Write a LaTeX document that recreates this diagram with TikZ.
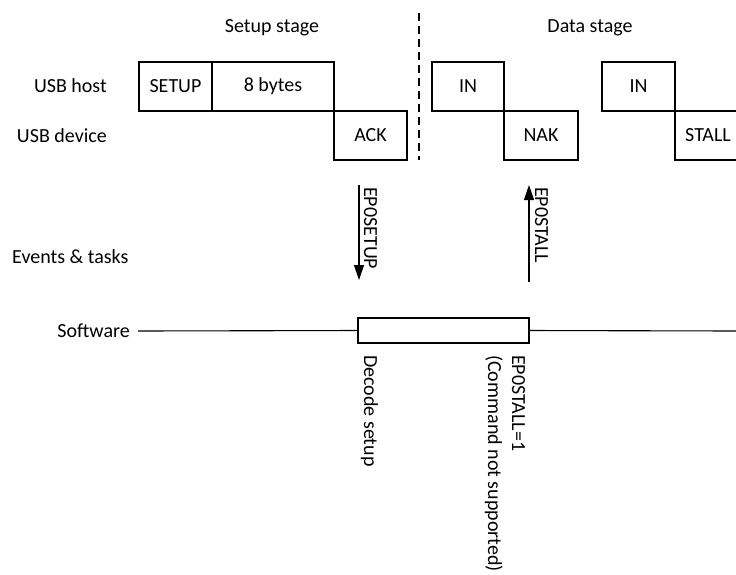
\documentclass[tikz,border=0pt]{standalone}
\usepackage{fontspec}
\setmainfont{Carlito}
\usetikzlibrary{arrows.meta}
\begin{document}
\begin{tikzpicture}[x=1pt,y=-1pt,
  every node/.style={font=\fontsize{20}{24}\selectfont},
  pkt/.style={draw,line width=1.1pt,minimum height=49pt,inner sep=0pt,outer sep=0pt},
  lbl/.style={inner sep=0pt},
  vtxt/.style={rotate=-90,anchor=base west,inner sep=0pt},
  evarrow/.style={line width=1.1pt,-{Triangle[length=15pt,width=10pt]}},
  swline/.style={line width=1.1pt}]
\useasboundingbox (0,0) rectangle (736,574);
\clip (0,0) rectangle (736,574);
% stage labels
\node[lbl] (setupstage) at (272,28) {Setup stage};
\node[lbl] (datastage) at (590,28) {Data stage};
% row labels
\node[lbl,anchor=east] (host) at (107,86) {USB host};
\node[lbl,anchor=east] (dev) at (107,136) {USB device};
\node[lbl,anchor=west] (ev) at (12,257) {Events \& tasks};
\node[lbl,anchor=east] (swl) at (130,331) {Software};
% packets
\node[pkt,minimum width=73pt] (setup) at (175.5,86.5) {SETUP};
\node[pkt,minimum width=122pt] (bytes) at (273,86.5) {8 bytes};
\node[pkt,minimum width=73pt] (ack) at (370.5,135.5) {ACK};
\node[pkt,minimum width=72pt] (in1) at (468,86.5) {IN};
\node[pkt,minimum width=74pt] (nak) at (541,135.5) {NAK};
\node[pkt,minimum width=73pt] (in2) at (638.5,86.5) {IN};
\node[pkt,minimum width=66pt] (stall) at (708,135.5) {STALL};
% stage separator
\coordinate (septop) at (419,13);
\coordinate (sepbot) at (419,160);
\draw[line width=1.1pt,dash pattern=on 8pt off 5pt] (septop) -- (sepbot);
% event arrows
\coordinate (a1s) at (359,185);
\coordinate (a1e) at (359,280);
\coordinate (a2s) at (529,282);
\coordinate (a2e) at (529,185);
\draw[evarrow] (a1s) -- (a1e);
\draw[evarrow] (a2s) -- (a2e);
\node[vtxt] (ep0setup) at (364,187) {EP0SETUP};
\node[vtxt] (ep0stall) at (535,187) {EP0STALL};
% software line
\node[draw,line width=1.1pt,minimum width=171pt,minimum height=25pt,inner sep=0pt,outer sep=0pt] (task) at (443.5,330.5) {};
\coordinate (swstart) at (138,331);
\coordinate (swend) at (737,331);
\draw[swline] (swstart) -- (task.west);
\draw[swline] (task.east) -- (swend);
% task texts
\node[vtxt] (decode) at (364,355) {Decode setup};
\node[vtxt] (setstall) at (512,355) {EP0STALL=1};
\node[vtxt] (notsup) at (488,355) {(Command not supported)};
\end{tikzpicture}
\end{document}
